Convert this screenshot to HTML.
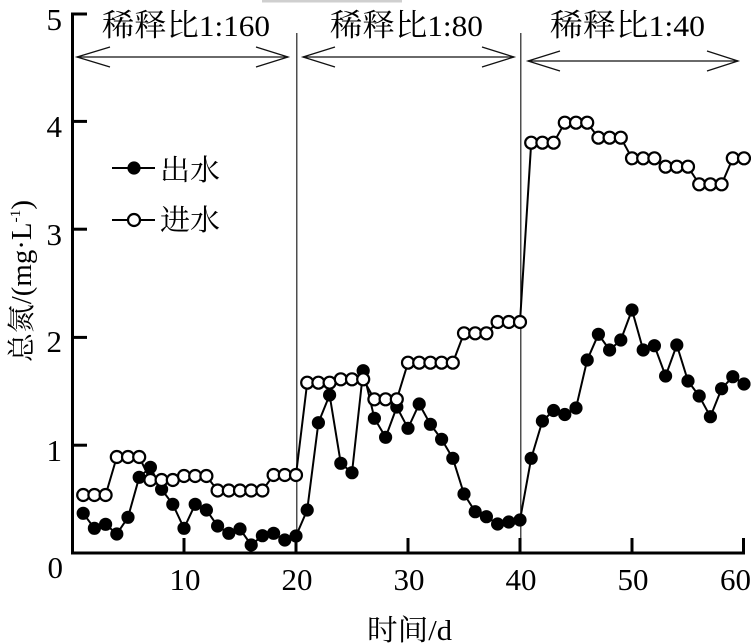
<!DOCTYPE html>
<html>
<head>
<meta charset="utf-8">
<style>
html,body{margin:0;padding:0;background:#fff;}
svg{display:block;}
text{font-family:"Liberation Serif","Noto Serif CJK SC",serif;fill:#000;}
</style>
</head>
<body>
<svg width="751" height="644" viewBox="0 0 751 644" xmlns="http://www.w3.org/2000/svg">
<defs>
<marker id="mf" markerUnits="userSpaceOnUse" markerWidth="16" markerHeight="16" refX="8" refY="8" overflow="visible">
<circle cx="8" cy="8" r="6.6" fill="#000"/>
</marker>
<marker id="mo" markerUnits="userSpaceOnUse" markerWidth="16" markerHeight="16" refX="8" refY="8" overflow="visible">
<circle cx="8" cy="8" r="6" fill="#fff" stroke="#000" stroke-width="2.2"/>
</marker>
</defs>
<rect x="0" y="0" width="751" height="644" fill="#fff"/>
<rect x="262" y="0" width="140" height="2.5" fill="#cfcfcf"/>

<!-- dividers -->
<line x1="296.8" y1="33" x2="296.8" y2="553" stroke="#222" stroke-width="1.2"/>
<line x1="520.8" y1="33" x2="520.8" y2="553" stroke="#222" stroke-width="1.2"/>

<!-- arrows -->
<g stroke="#111" stroke-width="1.3" fill="none">
<line x1="77" y1="57" x2="288" y2="57"/>
<polyline points="110,47 77,57 110,67"/>
<polyline points="256,47 288,57 256,67"/>
<line x1="303" y1="57" x2="514" y2="57"/>
<polyline points="335,47 303,57 335,67"/>
<polyline points="482,47 514,57 482,67"/>
<line x1="528" y1="61" x2="738" y2="61"/>
<polyline points="560,51 528,61 560,71"/>
<polyline points="707,51 738,61 707,71"/>
</g>

<!-- titles -->
<text x="102" y="36" font-size="30" textLength="168" lengthAdjust="spacingAndGlyphs"><tspan font-size="31">稀释比</tspan>1:160</text>
<text x="330" y="36" font-size="30" textLength="153" lengthAdjust="spacingAndGlyphs"><tspan font-size="31">稀释比</tspan>1:80</text>
<text x="550" y="36" font-size="30" textLength="155" lengthAdjust="spacingAndGlyphs"><tspan font-size="31">稀释比</tspan>1:40</text>

<!-- axes -->
<g stroke="#000" stroke-width="3" fill="none">
<line x1="72.5" y1="12.5" x2="72.5" y2="554.5"/>
<line x1="71" y1="553" x2="745" y2="553"/>
<line x1="72" y1="14" x2="87" y2="14"/>
<line x1="72" y1="121.4" x2="87" y2="121.4"/>
<line x1="72" y1="229.2" x2="87" y2="229.2"/>
<line x1="72" y1="337.4" x2="87" y2="337.4"/>
<line x1="72" y1="445.2" x2="87" y2="445.2"/>
<line x1="184" y1="553" x2="184" y2="538"/>
<line x1="296" y1="553" x2="296" y2="538"/>
<line x1="408" y1="553" x2="408" y2="538"/>
<line x1="520" y1="553" x2="520" y2="538"/>
<line x1="632" y1="553" x2="632" y2="538"/>
<line x1="743.5" y1="553" x2="743.5" y2="538"/>
</g>

<!-- y tick labels -->
<g font-size="31" text-anchor="end">
<text x="62" y="30">5</text>
<text x="62" y="137">4</text>
<text x="62" y="245">3</text>
<text x="62" y="352">2</text>
<text x="62" y="461">1</text>
<text x="63" y="578">0</text>
</g>
<!-- x tick labels -->
<g font-size="31" text-anchor="middle">
<text x="185" y="590">10</text>
<text x="297" y="590">20</text>
<text x="409" y="590">30</text>
<text x="521" y="590">40</text>
<text x="633" y="590">50</text>
</g>
<text x="720" y="590" font-size="31">60</text>

<!-- axis titles -->
<text x="367" y="640" font-size="29" textLength="85" lengthAdjust="spacingAndGlyphs">时间/d</text>
<g transform="translate(31,362) rotate(-90)">
<text x="0" y="0" font-size="28" textLength="162" lengthAdjust="spacingAndGlyphs">总氮/(mg·L<tspan font-size="15" dy="-11">-1</tspan><tspan dy="11">)</tspan></text>
</g>

<!-- legend -->
<line x1="112" y1="168" x2="155" y2="168" stroke="#000" stroke-width="2"/>
<circle cx="134" cy="168" r="6.6" fill="#000"/>
<text x="160" y="180" font-size="29" textLength="60" lengthAdjust="spacingAndGlyphs">出水</text>
<line x1="112" y1="220" x2="155" y2="220" stroke="#000" stroke-width="2"/>
<circle cx="134" cy="220" r="6" fill="#fff" stroke="#000" stroke-width="2.2"/>
<text x="160" y="230" font-size="29" textLength="60" lengthAdjust="spacingAndGlyphs">进水</text>

<!-- outflow (filled) -->
<polyline fill="none" stroke="#000" stroke-width="2" marker-start="url(#mf)" marker-mid="url(#mf)" marker-end="url(#mf)"
points="83.2,513.3 94.4,528.3 105.6,524.3 116.8,534 128,517.3 139.2,477.3 150.4,467.3 161.6,489.3 172.8,504.3 184,528.3 195.2,504.3 206.4,510 217.6,526 228.8,533.3 240,529 251.2,545 262.4,535.7 273.6,533.3 284.8,540 296,536 307.2,510 318.4,422.7 329.6,395 340.8,463.3 352,472.7 363.2,370.7 374.4,418.3 385.6,437.3 396.8,407 408,428.3 419.2,404 430.4,424.3 441.6,439.3 452.8,458.3 464,494 475.2,511.7 486.4,516.7 497.6,524 508.8,522 520,520 531.2,458.3 542.4,421 553.6,410.5 564.8,414.5 576,408 587.2,360 598.4,334.3 609.6,350 620.8,340 632,310 643.2,350 654.4,345.7 665.6,376 676.8,345 688,381 699.2,396 710.4,416.7 721.6,388.7 732.8,376.7 744,384"/>

<!-- inflow (open) -->
<polyline fill="none" stroke="#000" stroke-width="2" marker-start="url(#mo)" marker-mid="url(#mo)" marker-end="url(#mo)"
points="83.2,495 94.4,495 105.6,495 116.8,457 128,457 139.2,457 150.4,480 161.6,480 172.8,480 184,476 195.2,476 206.4,476 217.6,490.5 228.8,490.5 240,490.5 251.2,490.5 262.4,490.5 273.6,475 284.8,475 296,475 307.2,382.7 318.4,382.7 329.6,382.7 340.8,379.3 352,379.3 363.2,379.3 374.4,399.3 385.6,399.3 396.8,399.3 408,362.7 419.2,362.7 430.4,362.7 441.6,362.7 452.8,362.7 464,333.3 475.2,333.3 486.4,333.3 497.6,322 508.8,322 520,322 531.2,142.7 542.4,142.7 553.6,142.7 564.8,122.7 576,122.7 587.2,122.7 598.4,137.7 609.6,137.7 620.8,137.7 632,158.3 643.2,158.3 654.4,158.3 665.6,166.7 676.8,166.7 688,166.7 699.2,184.3 710.4,184.3 721.6,184.3 732.8,158.3 744,158.3"/>
</svg>
</body>
</html>
